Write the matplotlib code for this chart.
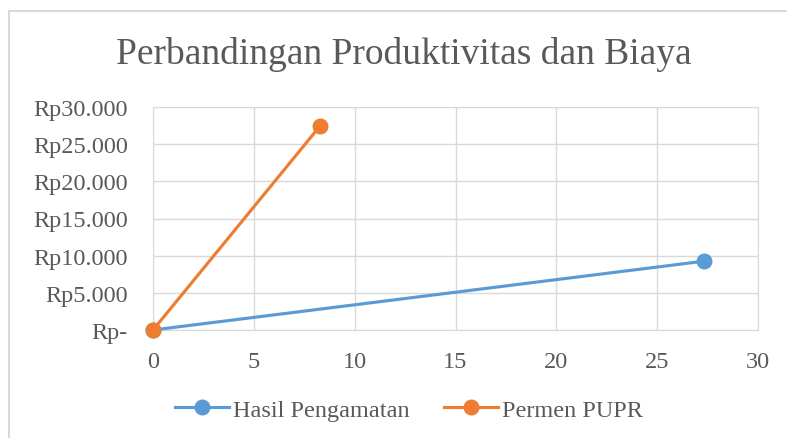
import matplotlib.pyplot as plt
from matplotlib.lines import Line2D
from matplotlib.ticker import FuncFormatter

plt.rcParams['font.family'] = ['Liberation Serif', 'DejaVu Serif']

# data
hasil_x = [0, 27.3]
hasil_y = [0, 9250]
permen_x = [0, 8.3]
permen_y = [0, 27500]

x_ticks = [0, 5, 10, 15, 20, 25, 30]
y_ticks = [0, 5000, 10000, 15000, 20000, 25000, 30000]

txt = '#595959'
grid = '#d9d9d9'

fig = plt.figure(figsize=(7.87, 4.39), dpi=100)
ax = fig.add_axes([153/787, 1 - 331/439, (758-153)/787, (331-108)/439])

ax.plot(hasil_x, hasil_y, '-o', color='#5B9BD5', lw=2.25, ms=10.5,
        label='Hasil Pengamatan', zorder=3, clip_on=False)
ax.plot(permen_x, permen_y, '-o', color='#ED7D31', lw=2.25, ms=10.5,
        label='Permen PUPR', zorder=3, clip_on=False)

ax.set_xlim(0, 30)
ax.set_ylim(0, 30000)
ax.set_xticks(x_ticks)
ax.set_yticks(y_ticks)

def rp(v, pos):
    if v == 0:
        return 'Rp-'
    return 'Rp' + f'{int(v):,}'.replace(',', '.')

ax.yaxis.set_major_formatter(FuncFormatter(rp))
ax.grid(True, color=grid, lw=1)
ax.set_axisbelow(True)
for s in ax.spines.values():
    s.set_color(grid)
ax.tick_params(length=0, labelsize=17.5, colors=txt)
ax.tick_params(axis='y', pad=18)
ax.tick_params(axis='x', pad=15)

fig.text(404/787, 1 - 55/439, 'Perbandingan Produktivitas dan Biaya',
         ha='center', va='center', fontsize=27, color=txt)

leg = fig.legend(loc='center', bbox_to_anchor=(0.52, 1 - 411/439), ncol=2,
                 frameon=False, fontsize=17.5, labelcolor=txt,
                 handlelength=2.2, columnspacing=1.4, handletextpad=0.2)

# chart frame (left and top edges visible)
fig.add_artist(Line2D([9/787, 9/787], [0, 1 - 12/439], color='#d9d9d9', lw=1.5))
fig.add_artist(Line2D([9/787, 1], [1 - 12/439, 1 - 12/439], color='#d9d9d9', lw=1.5))

fig.savefig('out.png', dpi=100)
